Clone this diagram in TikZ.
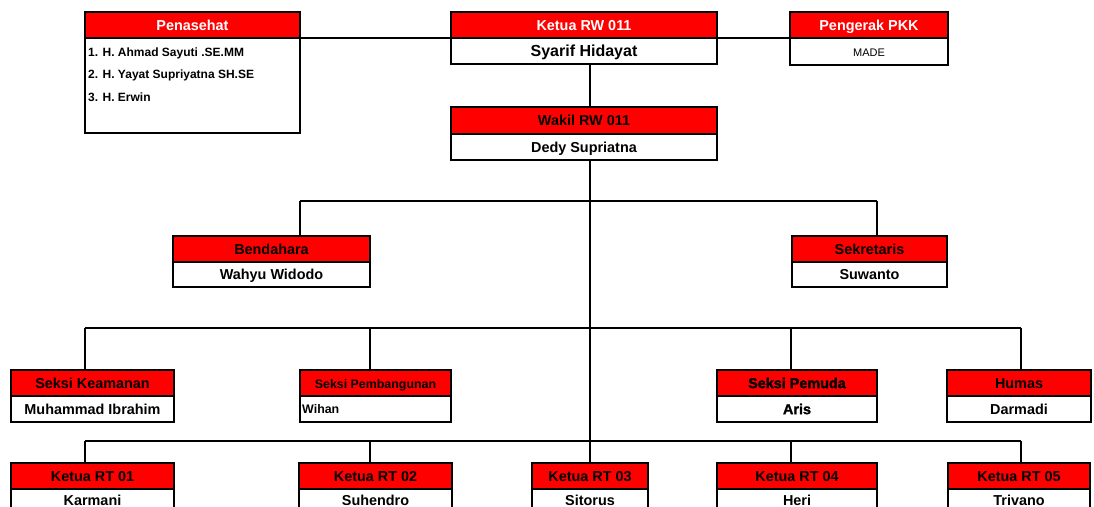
\documentclass[tikz,border=0pt]{standalone}
\usepackage{fontspec}
\setmainfont{Liberation Sans}
\newfontfamily\heavyfont{Liberation Sans}[BoldFeatures={FakeBold=1.6}]
\usetikzlibrary{backgrounds}
\tikzset{
 box/.style={draw, line width=2pt, inner sep=0pt, outer sep=0pt, anchor=north west,
   text height=10.3pt, text depth=0pt,
   font=\bfseries\fontsize{14.4}{16}\selectfont},
 hdr/.style={box, fill=red},
 bdy/.style={box, fill=white},
 conn/.style={line width=1.8pt},
 hconn/.style={line width=1.3pt},
 plain/.style={inner sep=0pt, anchor=base west, font=\bfseries\fontsize{12}{14}\selectfont},
}
\newcommand\orgbox[9]{%
 \node[hdr,#9,minimum width={(#4-#2)*1pt},minimum height={(#5-#3)*1pt}] (#1h) at (#2,-#3) {#7};
 \node[bdy,minimum width={(#4-#2)*1pt},minimum height={(#6-#5)*1pt}] (#1b) at (#2,-#5) {#8};
}
\begin{document}
\begin{tikzpicture}[x=1pt,y=1pt]
\useasboundingbox (0,0) rectangle (1094,-506);
\clip (0,0) rectangle (1094,-506);
% boxes
\orgbox{pen}{85}{12}{300}{38}{133}{Penasehat}{}{text=white}
\orgbox{ket}{451}{12}{717}{38}{64}{Ketua RW 011}{\fontsize{16}{18}\selectfont Syarif Hidayat}{text=white}
\orgbox{pkk}{790}{12}{948}{38}{65}{Pengerak PKK}{\mdseries\fontsize{11}{13}\selectfont MADE}{text=white}
\orgbox{wak}{451}{107}{717}{134}{160}{Wakil RW 011}{Dedy Supriatna}{}
\orgbox{ben}{173}{236}{370}{262}{287}{Bendahara}{Wahyu Widodo}{}
\orgbox{sek}{792}{236}{947}{262}{287}{Sekretaris}{Suwanto}{}
\orgbox{kea}{11}{370}{174}{396}{422}{Seksi Keamanan}{Muhammad Ibrahim}{}
\orgbox{pem}{300}{370}{451}{396}{422}{\fontsize{12.4}{14}\selectfont Seksi Pembangunan}{}{}
\orgbox{pmd}{717}{370}{877}{396}{422}{\heavyfont\bfseries Seksi Pemuda}{\heavyfont\bfseries Aris}{}
\orgbox{hum}{947}{370}{1091}{396}{422}{Humas}{Darmadi}{}
\orgbox{rta}{11}{463}{174}{489}{512}{Ketua RT 01}{Karmani}{}
\orgbox{rtb}{299}{463}{452}{489}{512}{Ketua RT 02}{Suhendro}{}
\orgbox{rtc}{532}{463}{648}{489}{512}{Ketua RT 03}{Sitorus}{}
\orgbox{rtd}{717}{463}{877}{489}{512}{Ketua RT 04}{Heri}{}
\orgbox{rte}{948}{463}{1090}{489}{512}{Ketua RT 05}{Trivano}{}
% texts
\node[plain] (p1) at (88,-56) {1. H. Ahmad Sayuti .SE.MM};
\node[plain] (p2) at (88,-78.8) {2. H. Yayat Supriyatna SH.SE};
\node[plain] (p3) at (88,-101.3) {3. H. Erwin};
\node[plain, anchor=west, font=\bfseries\fontsize{12.4}{14}\selectfont] (wih) at (302,-409) {Wihan};
% junctions
\coordinate (j1) at (300,-201);
\coordinate (j2) at (877,-201);
\coordinate (k1) at (85,-328);
\coordinate (k2) at (370,-328);
\coordinate (k3) at (791,-328);
\coordinate (k4) at (1021,-328);
\coordinate (r1) at (85,-441);
\coordinate (r2) at (370,-441);
\coordinate (r4) at (791,-441);
\coordinate (r5) at (1021,-441);
\begin{scope}[on background layer]
\fill[white] (0,0) rectangle (1094,-506);
\draw[hconn] (penb.north east) -- (ketb.north west);
\draw[hconn] (ketb.north east) -- (pkkb.north west);
\draw[conn] (ketb.south -| rtch.north) -- (rtch.north);
\draw[hconn] (j1) -- (j2);
\draw[conn] (j1) -- (j1 |- benh.north);
\draw[conn] (j2) -- (j2 |- sekh.north);
\draw[hconn] (k1) -- (k4);
\draw[conn] (k1) -- (k1 |- keah.north);
\draw[conn] (k2) -- (k2 |- pemh.north);
\draw[conn] (k3) -- (k3 |- pmdh.north);
\draw[conn] (k4) -- (k4 |- humh.north);
\draw[hconn] (r1) -- (r5);
\draw[conn] (r1) -- (r1 |- rtah.north);
\draw[conn] (r2) -- (r2 |- rtbh.north);
\draw[conn] (r4) -- (r4 |- rtdh.north);
\draw[conn] (r5) -- (r5 |- rteh.north);
\end{scope}
\end{tikzpicture}
\end{document}
